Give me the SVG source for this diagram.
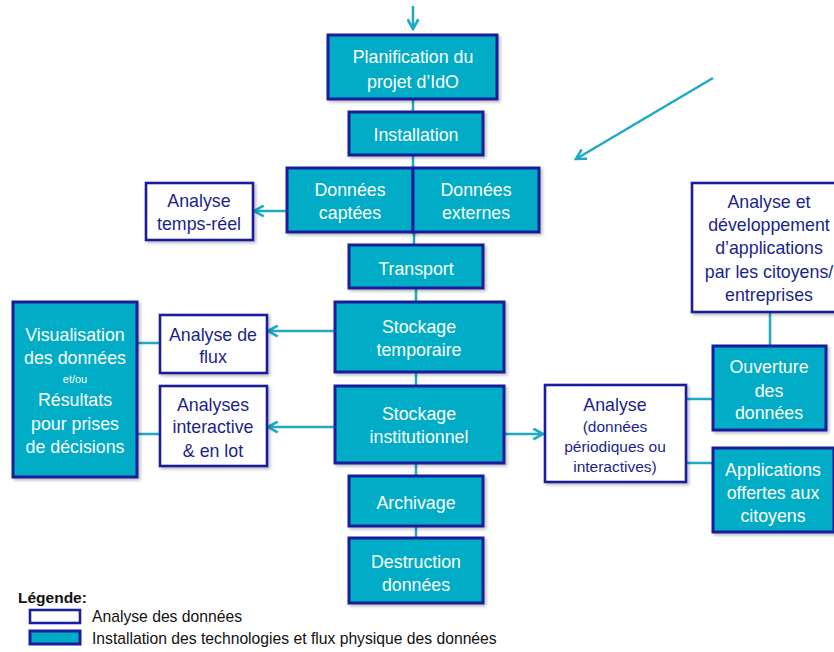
<svg xmlns="http://www.w3.org/2000/svg" width="834" height="652" viewBox="0 0 834 652">
<defs>
<style>
.t{fill:#00ACC6;stroke:#1B1F9A;stroke-width:3}
.w{fill:#ffffff;stroke:#1B1F9A;stroke-width:2.6}
text{font-family:"Liberation Sans",Arial,sans-serif;text-anchor:middle}
.tw{fill:#ffffff;font-size:17.8px}
.tb{fill:#1B1F8C;font-size:17.8px}
.s{font-size:15.5px}
.c{fill:none;stroke:#1EA9C6;stroke-width:2.5}
.lg{fill:#111;font-size:15.7px;text-anchor:start}
</style>
<marker id="ah" viewBox="0 0 12 12" refX="10" refY="6" markerWidth="13" markerHeight="13" markerUnits="userSpaceOnUse" orient="auto">
<path d="M1,1 L10,6 L1,11" fill="none" stroke="#1EA9C6" stroke-width="2.4"/>
</marker>
<filter id="sh" x="-10%" y="-10%" width="130%" height="130%">
<feDropShadow dx="2" dy="2" stdDeviation="1.5" flood-color="#000" flood-opacity="0.25"/>
</filter>
</defs>
<rect width="834" height="652" fill="#ffffff"/>

<g id="connectors">
<line class="c" x1="413" y1="6" x2="413" y2="29" marker-end="url(#ah)"/>
<line class="c" x1="713" y1="78" x2="576" y2="159" marker-end="url(#ah)"/>
<line class="c" x1="413" y1="99" x2="413" y2="168"/>
<line class="c" x1="414" y1="232" x2="414" y2="245"/>
<line class="c" x1="416" y1="288" x2="416" y2="302"/>
<line class="c" x1="416" y1="372" x2="416" y2="386"/>
<line class="c" x1="416" y1="463" x2="416" y2="476"/>
<line class="c" x1="416" y1="526" x2="416" y2="538"/>
<line class="c" x1="286" y1="211" x2="254" y2="211" marker-end="url(#ah)"/>
<line class="c" x1="335" y1="331" x2="268" y2="331" marker-end="url(#ah)"/>
<line class="c" x1="335" y1="427" x2="268" y2="427" marker-end="url(#ah)"/>
<line class="c" x1="137" y1="343" x2="160" y2="343"/>
<line class="c" x1="137" y1="434" x2="160" y2="434"/>
<line class="c" x1="504" y1="434" x2="543" y2="434" marker-end="url(#ah)"/>
<line class="c" x1="686" y1="399" x2="713" y2="399"/>
<line class="c" x1="686" y1="463" x2="713" y2="463"/>
<line class="c" x1="770" y1="312" x2="770" y2="346"/>
</g>

<g id="planification">
<rect class="t" filter="url(#sh)" x="328" y="35" width="169" height="64"/>
<text class="tw" x="413" y="63">Planification du</text>
<text class="tw" x="413" y="88">projet d’IdO</text>
</g>
<g id="installation">
<rect class="t" filter="url(#sh)" x="349" y="112" width="134" height="43"/>
<text class="tw" x="416" y="141">Installation</text>
</g>
<g id="donnees-captees">
<rect class="t" filter="url(#sh)" x="287" y="168" width="126" height="64"/>
<text class="tw" x="350" y="196">Données</text>
<text class="tw" x="350" y="219">captées</text>
</g>
<g id="donnees-externes">
<rect class="t" filter="url(#sh)" x="413" y="168" width="126" height="64"/>
<text class="tw" x="476" y="196">Données</text>
<text class="tw" x="476" y="219">externes</text>
</g>
<g id="analyse-temps-reel">
<rect class="w" filter="url(#sh)" x="146" y="183" width="107" height="57"/>
<text class="tb" x="199" y="207">Analyse</text>
<text class="tb" x="199" y="230">temps-réel</text>
</g>
<g id="transport">
<rect class="t" filter="url(#sh)" x="349" y="245" width="134" height="43"/>
<text class="tw" x="416" y="275">Transport</text>
</g>
<g id="stockage-temporaire">
<rect class="t" filter="url(#sh)" x="335" y="302" width="169" height="70"/>
<text class="tw" x="419" y="333">Stockage</text>
<text class="tw" x="419" y="356">temporaire</text>
</g>
<g id="stockage-institutionnel">
<rect class="t" filter="url(#sh)" x="335" y="386" width="169" height="77"/>
<text class="tw" x="419" y="420">Stockage</text>
<text class="tw" x="419" y="443">institutionnel</text>
</g>
<g id="archivage">
<rect class="t" filter="url(#sh)" x="349" y="476" width="134" height="50"/>
<text class="tw" x="416" y="509">Archivage</text>
</g>
<g id="destruction">
<rect class="t" filter="url(#sh)" x="349" y="538" width="134" height="65"/>
<text class="tw" x="416" y="568">Destruction</text>
<text class="tw" x="416" y="591">données</text>
</g>
<g id="analyse-flux">
<rect class="w" filter="url(#sh)" x="160" y="315" width="107" height="58"/>
<text class="tb" x="213" y="341">Analyse de</text>
<text class="tb" x="213" y="363">flux</text>
</g>
<g id="analyses-interactive">
<rect class="w" filter="url(#sh)" x="160" y="386" width="107" height="80"/>
<text class="tb" x="213" y="411">Analyses</text>
<text class="tb" x="213" y="433">interactive</text>
<text class="tb" x="213" y="457">&amp; en lot</text>
</g>
<g id="visualisation">
<rect class="t" filter="url(#sh)" x="13" y="302" width="124" height="175"/>
<text class="tw" x="75" y="341">Visualisation</text>
<text class="tw" x="75" y="364">des données</text>
<text class="tw" x="75" y="383" style="font-size:11px">et/ou</text>
<text class="tw" x="75" y="406">Résultats</text>
<text class="tw" x="75" y="430">pour prises</text>
<text class="tw" x="75" y="453">de décisions</text>
</g>
<g id="analyse-periodique">
<rect class="w" filter="url(#sh)" x="545" y="385" width="141" height="97"/>
<text class="tb" x="615" y="411">Analyse</text>
<text class="tb s" x="615" y="432">(données</text>
<text class="tb s" x="615" y="452">périodiques ou</text>
<text class="tb s" x="615" y="472">interactives)</text>
</g>
<g id="ouverture">
<rect class="t" filter="url(#sh)" x="713" y="346" width="113" height="84"/>
<text class="tw" x="769" y="373">Ouverture</text>
<text class="tw" x="769" y="397">des</text>
<text class="tw" x="769" y="419">données</text>
</g>
<g id="applications">
<rect class="t" filter="url(#sh)" x="713" y="448" width="121" height="84"/>
<text class="tw" x="773" y="476">Applications</text>
<text class="tw" x="773" y="499">offertes aux</text>
<text class="tw" x="773" y="522">citoyens</text>
</g>
<g id="analyse-developpement">
<rect class="w" filter="url(#sh)" x="692" y="183" width="145" height="129"/>
<text class="tb" x="769" y="208">Analyse et</text>
<text class="tb" x="769" y="231">développement</text>
<text class="tb" x="769" y="254">d’applications</text>
<text class="tb" x="769" y="278">par les citoyens/</text>
<text class="tb" x="769" y="301">entreprises</text>
</g>

<g id="legende">
<text x="18" y="603" style="font-size:15.5px;font-weight:bold;text-anchor:start;fill:#111">Légende:</text>
<rect class="w" x="30" y="610" width="50" height="13"/>
<rect class="t" x="30" y="631" width="50" height="13"/>
<text class="lg" x="92" y="622">Analyse des données</text>
<text class="lg" x="92" y="644">Installation des technologies et flux physique des données</text>
</g>
</svg>
